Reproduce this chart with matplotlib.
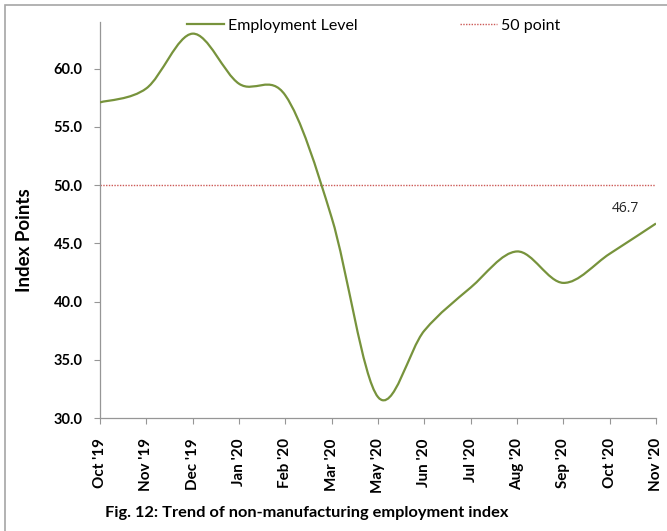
import numpy as np
import matplotlib
matplotlib.use("Agg")
import matplotlib.pyplot as plt
from matplotlib.path import Path
from matplotlib.patches import PathPatch, Rectangle
from matplotlib.lines import Line2D

plt.rcParams['font.family'] = ['Lato', 'DejaVu Sans']

months = ["Oct '19", "Nov '19", "Dec '19", "Jan '20", "Feb '20", "Mar '20", "May '20",
          "Jun '20", "Jul '20", "Aug '20", "Sep '20", "Oct '20", "Nov '20"]
employment = [57.1, 58.3, 63.0, 58.7, 57.7, 47.2, 31.8, 37.5, 41.2, 44.3, 41.6, 44.1, 46.7]
ref_level = 50
yticks = [30, 35, 40, 45, 50, 55, 60]

green = '#77933c'
red = '#cc5a57'

fig = plt.figure(figsize=(6.67, 5.31), dpi=100)
ax = fig.add_axes([100/667, 1 - 418/531, 556/667, 396/531])

x = np.arange(len(months))
y = np.array(employment, dtype=float)

# smoothed line like excel (bezier through the points)
verts = [(x[0], y[0])]
codes = [Path.MOVETO]
n = len(x)
for i in range(n - 1):
    p0 = np.array([x[max(i-1, 0)], y[max(i-1, 0)]])
    p1 = np.array([x[i], y[i]])
    p2 = np.array([x[i+1], y[i+1]])
    p3 = np.array([x[min(i+2, n-1)], y[min(i+2, n-1)]])
    c1 = p1 + (p2 - p0) / 6.0
    c2 = p2 - (p3 - p1) / 6.0
    verts += [tuple(c1), tuple(c2), tuple(p2)]
    codes += [Path.CURVE4, Path.CURVE4, Path.CURVE4]
ax.add_patch(PathPatch(Path(verts, codes), facecolor='none', edgecolor=green, lw=1.6, zorder=3))

ax.axhline(ref_level, color=red, lw=1.0, ls=(0, (1, 1)), zorder=2)

ax.text(x[-1] - 0.65, y[-1] + 1.3, f"{employment[-1]:.1f}", fontsize=10, color='#262626',
        ha='center', va='center', family=['Open Sans', 'DejaVu Sans'])

ax.set_xlim(0, n - 1)
ax.set_ylim(30, 64)
ax.set_yticks(yticks)
ax.set_yticklabels([f"{v:.1f}" for v in yticks], fontsize=10.5, fontweight='bold')
ax.set_xticks(x)
ax.set_xticklabels(months, rotation=90, fontsize=11, fontweight='bold')
ax.tick_params(axis='both', color='#969696', length=4, width=0.8)
ax.tick_params(axis='x', pad=10.5)
ax.tick_params(axis='y', pad=8.5)
for s in ['top', 'right']:
    ax.spines[s].set_visible(False)
for s in ['left', 'bottom']:
    ax.spines[s].set_color('#969696')
    ax.spines[s].set_linewidth(0.9)

fig.text(25/667, 1 - 240/531, "Index Points", rotation=90, fontsize=13.5, fontweight='bold',
         ha='center', va='center')

handles = [Line2D([], [], color=green, lw=1.6), Line2D([], [], color=red, lw=1.0, ls=(0, (1, 1)))]
fig.legend(handles, ["Employment Level", "50 point"], loc='center left',
           bbox_to_anchor=(173/667, 1 - 26/531), ncol=2, frameon=False, fontsize=11.5,
           handlelength=2.3, handletextpad=0.25, columnspacing=6.4)

fig.text(105/667, 1 - 513/531, "Fig. 12: Trend of non-manufacturing employment index",
         fontsize=11.8, fontweight='bold', ha='left', va='center')

fig.patches.append(Rectangle((5/667, -0.05), 1.0, 1 - 5/531 + 0.05, transform=fig.transFigure,
                             fill=False, edgecolor='#a6a6a6', lw=1.2))

fig.savefig("out.png", dpi=100)
